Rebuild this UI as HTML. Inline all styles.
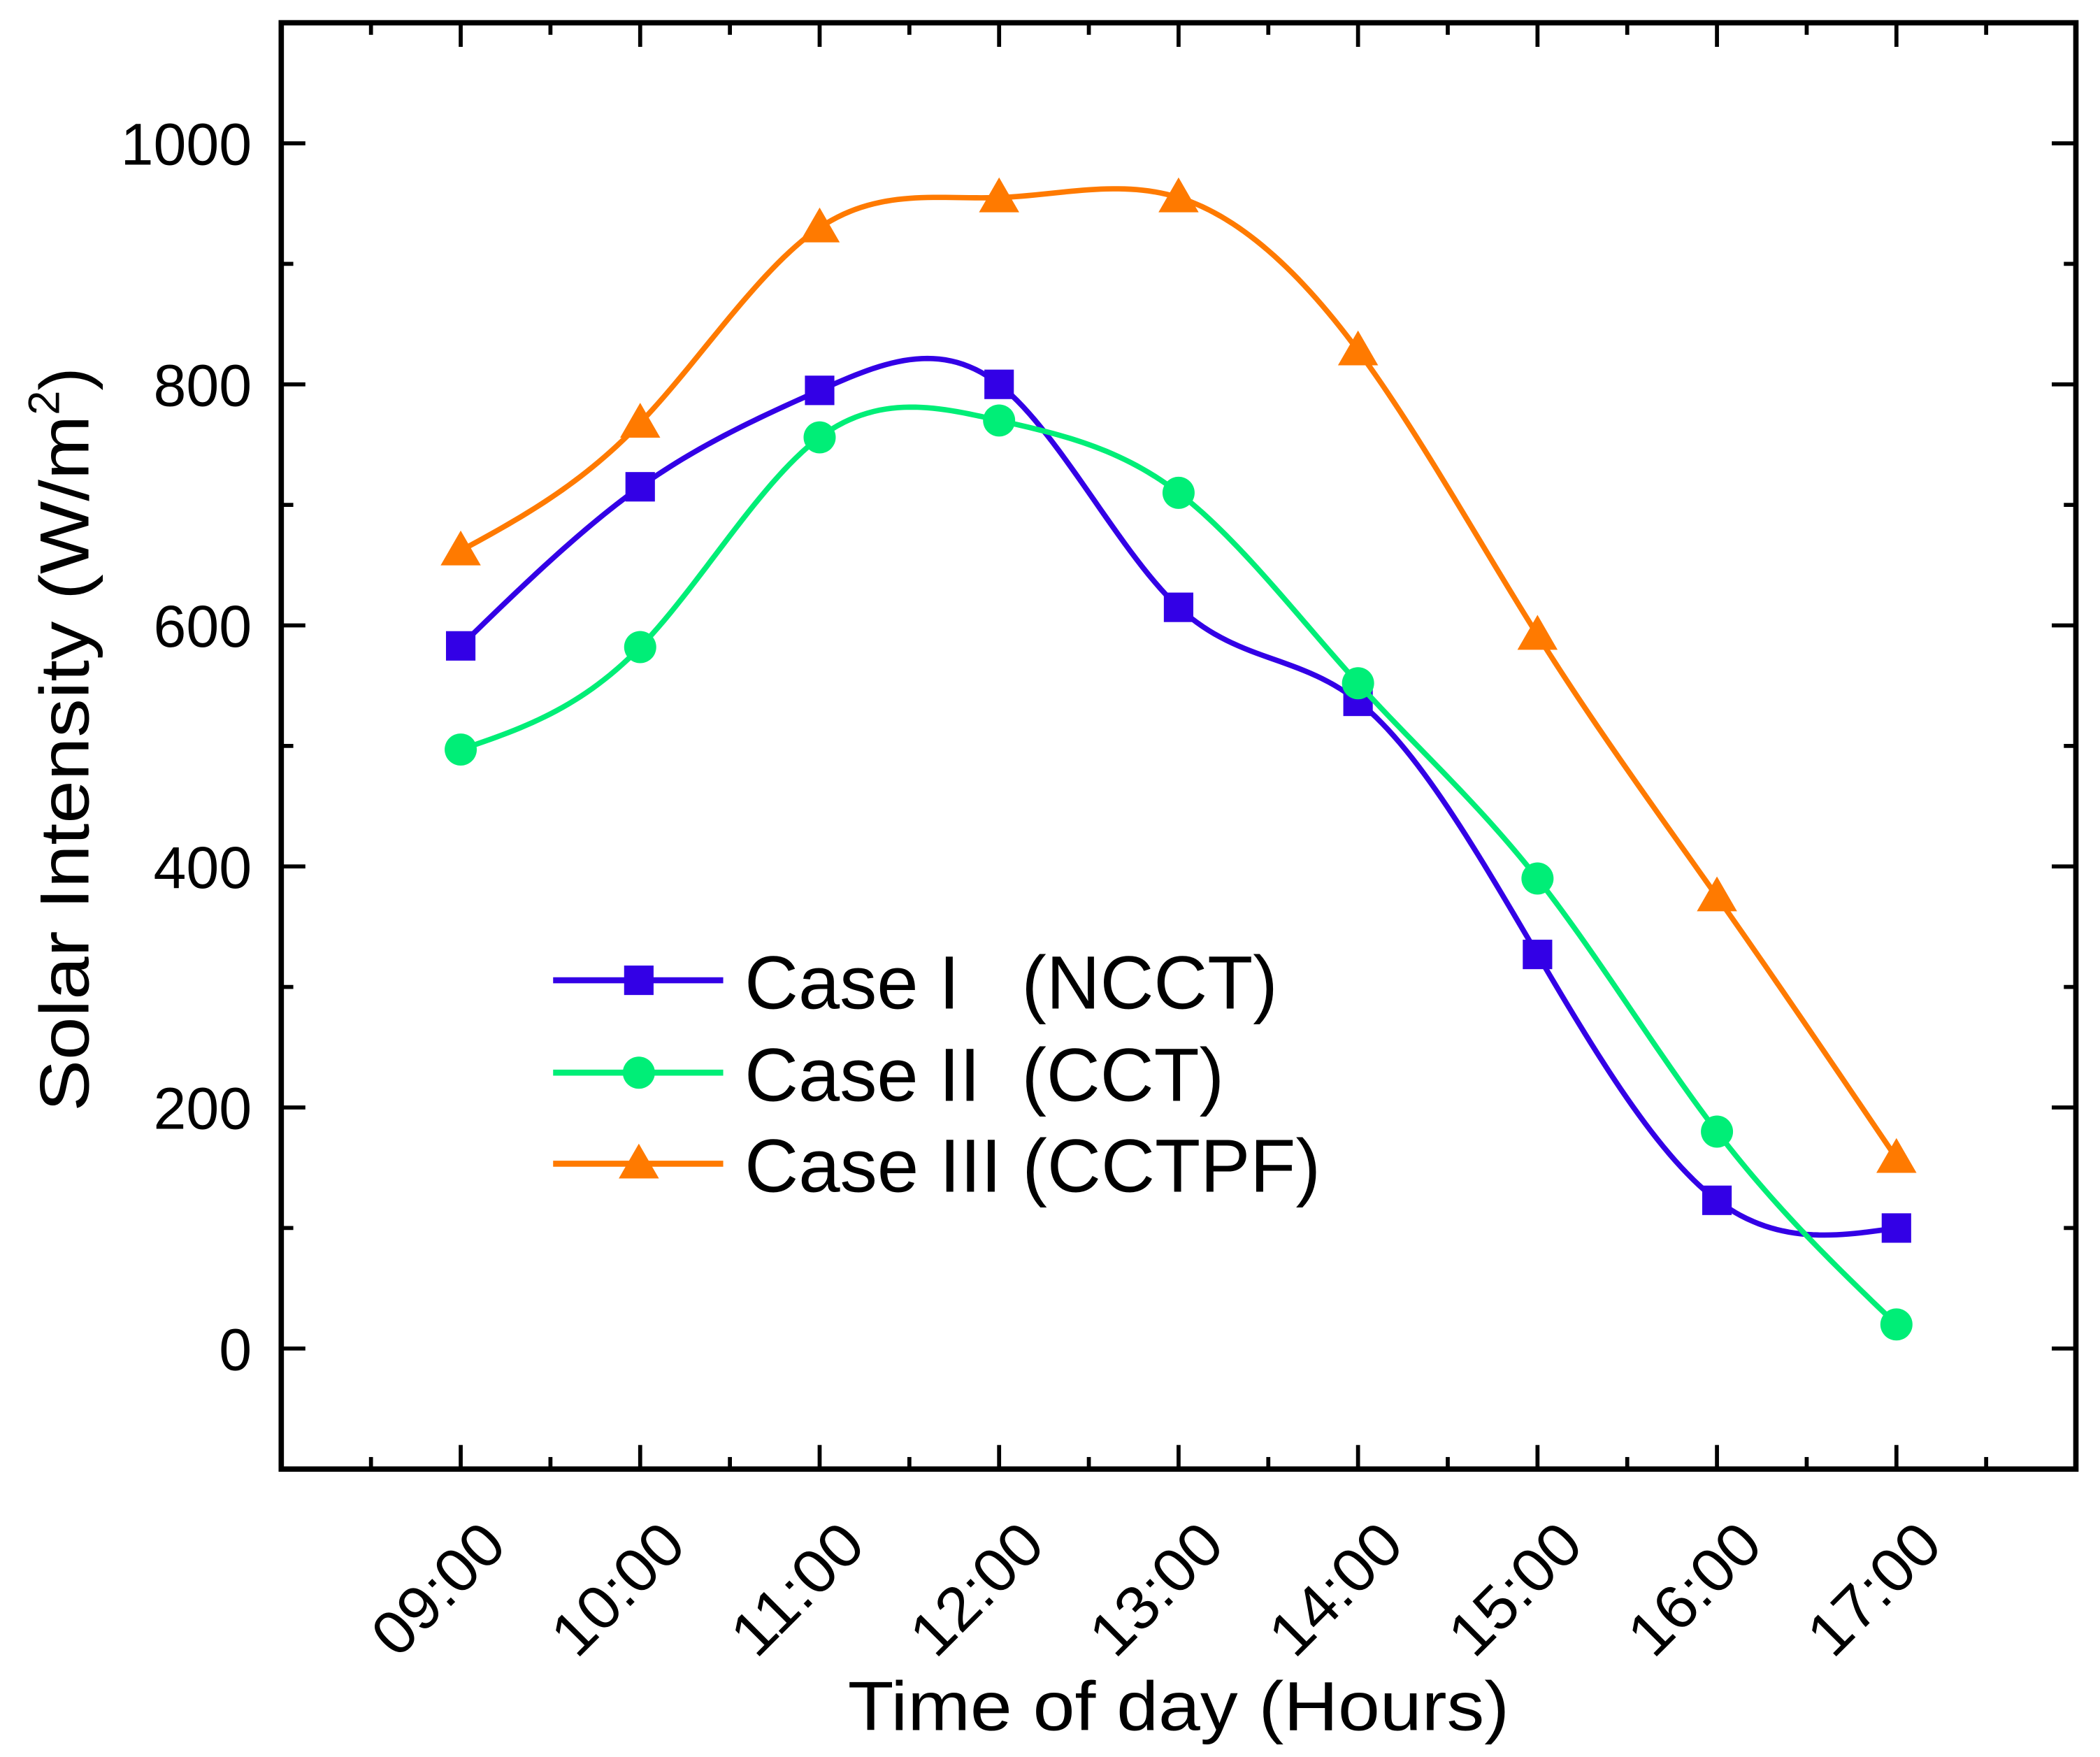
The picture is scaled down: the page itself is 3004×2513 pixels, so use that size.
<!DOCTYPE html>
<html><head><meta charset="utf-8"><style>
html,body{margin:0;padding:0;background:#fff;}
svg{display:block;font-family:"Liberation Sans",Arial,sans-serif;}
</style></head><body>
<svg id="chart" width="3004" height="2513" viewBox="0 0 1568 1312" preserveAspectRatio="none" xmlns="http://www.w3.org/2000/svg">
<rect x="0" y="0" width="1568" height="1312" fill="#fff"/>
<g id="grid"></g>
<g id="series"></g>
<rect x="210" y="17" width="1340" height="1080" fill="none" stroke="#000" stroke-width="4"/>
<text x="880" y="1292" text-anchor="middle" font-size="52" textLength="494" lengthAdjust="spacingAndGlyphs">Time of day (Hours)</text>
<text transform="translate(66,830) rotate(-90)" font-size="52"><tspan textLength="520" lengthAdjust="spacingAndGlyphs">Solar Intensity (W/m</tspan><tspan font-size="33" dy="-22">2</tspan><tspan dy="22">)</tspan></text>
<g id="legend"></g>
</svg>
<script>
const categories = ["09:00","10:00","11:00","12:00","13:00","14:00","15:00","16:00","17:00"];
const ncct = [583, 715, 795, 800, 615, 537, 327, 123, 100];
const cct = [497, 582, 756, 770, 710, 552, 390, 180, 20];
const cctpf = [662, 768, 930, 955, 955, 828, 592, 375, 158];
const yTicks = [0, 200, 400, 600, 800, 1000];
const seriesNames = ["Case I   (NCCT)", "Case II  (CCT)", "Case III (CCTPF)"];

const NS = "http://www.w3.org/2000/svg";
const X0 = 210, X1 = 1550, Y0 = 1097, Y1 = 17;
function xs(i){ return X0 + (i + 1) / 10 * (X1 - X0); }
function ys(v){ return Y0 - (v + 100) / 1200 * (Y0 - Y1); }
function mk(tag, attrs, parent){ const e = document.createElementNS(NS, tag); for (const k in attrs) e.setAttribute(k, attrs[k]); parent.appendChild(e); return e; }

const grid = document.getElementById('grid');
for (let k = -2; k <= 19; k++) {
  const i = k / 2 - 0.5;
  if (i <= -1 || i >= 9) continue;
  const x = xs(i);
  const major = Number.isInteger(i);
  const L = major ? 18 : 9;
  const t1 = mk('line', {x1:x, x2:x, y1:Y0, y2:Y0-L, stroke:'#000', 'stroke-width':3}, grid);
  
  
  const t2 = mk('line', {x1:x, x2:x, y1:Y1, y2:Y1+L, stroke:'#000', 'stroke-width':3}, grid);
  
  
}
categories.forEach((c, i) => {
  const x = xs(i) + 36, y = 1156;
  const t = mk('text', {x:x, y:y, 'text-anchor':'end', 'font-size':46, transform:`rotate(-45 ${x} ${y})`}, grid);
  t.textContent = c;
  t.setAttribute('textLength', 118);
  t.setAttribute('lengthAdjust', 'spacingAndGlyphs');
  
  
});
for (let v = -100; v <= 1100; v += 100) {
  if (v <= -100 || v >= 1100) continue;
  const y = ys(v);
  const major = v % 200 === 0;
  const L = major ? 18 : 9;
  const a = mk('line', {x1:X0, x2:X0+L, y1:y, y2:y, stroke:'#000', 'stroke-width':3}, grid);
  
  
  const b = mk('line', {x1:X1, x2:X1-L, y1:y, y2:y, stroke:'#000', 'stroke-width':3}, grid);
  
  
}
yTicks.forEach(v => {
  const t = mk('text', {x:188, y:ys(v)+16, 'text-anchor':'end', 'font-size':44}, grid);
  t.textContent = String(v);
  
  
});

function spline(vals){
  const n = vals.length;
  const a = vals.slice(), c = new Array(n).fill(0);
  const l = new Array(n).fill(1), mu = new Array(n).fill(0), z = new Array(n).fill(0);
  for (let i = 1; i < n - 1; i++) {
    const al = 3 * (a[i+1] - a[i]) - 3 * (a[i] - a[i-1]);
    l[i] = 4 - mu[i-1];
    mu[i] = 1 / l[i];
    z[i] = (al - z[i-1]) / l[i];
  }
  const b = new Array(n).fill(0), d = new Array(n).fill(0);
  for (let j = n - 2; j >= 0; j--) {
    c[j] = z[j] - mu[j] * c[j+1];
    b[j] = (a[j+1] - a[j]) - (c[j+1] + 2 * c[j]) / 3;
    d[j] = (c[j+1] - c[j]) / 3;
  }
  const pts = [];
  for (let j = 0; j < n - 1; j++) {
    for (let s = 0; s <= 30; s++) {
      const t = s / 30;
      pts.push([xs(j + t), ys(a[j] + b[j]*t + c[j]*t*t + d[j]*t*t*t)]);
    }
  }
  return pts;
}
function marker(type, x, y, color, parent){
  let e;
  if (type === 'square') e = mk('rect', {x:x-11, y:y-11, width:22, height:22, fill:color}, parent);
  else if (type === 'circle') e = mk('circle', {cx:x, cy:y, r:12, fill:color}, parent);
  else e = mk('polygon', {points:`${x},${y-15} ${x+15},${y+11} ${x-15},${y+11}`, fill:color}, parent);
  return e;
}
const series = [
  {vals:ncct, color:'#3300e6', m:'square', name:'ncct'},
  {vals:cct, color:'#00ee77', m:'circle', name:'cct'},
  {vals:cctpf, color:'#ff7a00', m:'triangle', name:'cctpf'}
];
const sg = document.getElementById('series');
series.forEach(s => {
  const g = mk('g', {}, sg);
  
  
  const p = mk('polyline', {points:spline(s.vals).map(q => q.join(',')).join(' '), fill:'none', stroke:s.color, 'stroke-width':4}, g);
  
  
  s.vals.forEach((v, i) => {
    const e = marker(s.m, xs(i), ys(v), s.color, g);
    
    
  });
});
const lg = document.getElementById('legend');
const rows = [732, 801, 869];
series.forEach((s, k) => {
  const y = rows[k];
  const l = mk('line', {x1:413, x2:540, y1:y, y2:y, stroke:s.color, 'stroke-width':4.5}, lg);
  
  
  const m = marker(s.m, 477, y, s.color, lg);
  
  
  const t = mk('text', {x:556, y:y+21, 'font-size':56}, lg);
  t.setAttribute('style', 'white-space:pre');
  t.textContent = seriesNames[k];
  const widths = [398, 358, 430];
  t.setAttribute('textLength', widths[k]);
  t.setAttribute('lengthAdjust', 'spacingAndGlyphs');
  
  
});
</script>
</body></html>
